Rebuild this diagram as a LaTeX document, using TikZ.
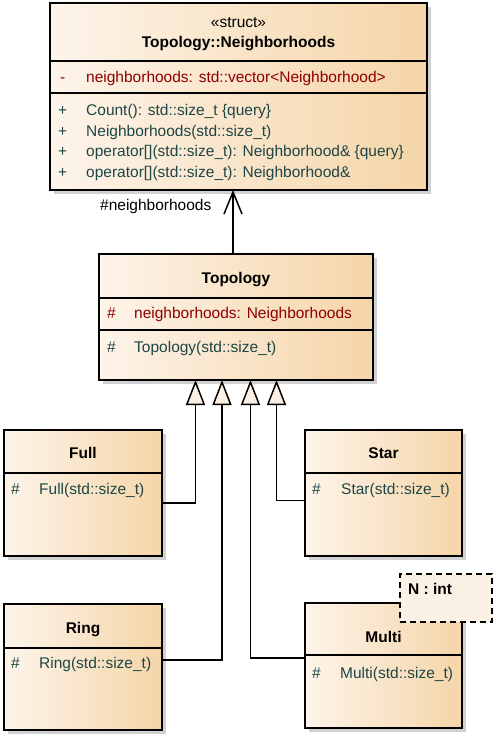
\documentclass[tikz,border=0pt]{standalone}
\usepackage{fontspec}
\setmainfont{Liberation Sans}
\usetikzlibrary{arrows.meta,shadows}
\definecolor{cL}{HTML}{FDF4EA}
\definecolor{cR}{HTML}{F5D5A8}
\definecolor{attrC}{HTML}{8E0000}
\definecolor{opC}{HTML}{1E4646}
\definecolor{triF}{HTML}{FBF0E3}
\definecolor{tplF}{HTML}{FBF0E4}
\begin{document}
\begin{tikzpicture}[x=1pt,y=-1pt,
  font=\fontsize{15.5}{18}\selectfont,
  cls/.style={draw=black, line width=1.7pt, left color=cL, right color=cR,
    drop shadow={shadow xshift=4pt, shadow yshift=-4pt, fill=black!18, opacity=1},
    inner sep=0pt, outer sep=0pt, anchor=north west},
  div/.style={line width=1.6pt},
  txt/.style={anchor=base west, inner sep=0pt},
  ttl/.style={anchor=base, inner sep=0pt, font=\fontsize{15.5}{18}\selectfont\bfseries},
  atr/.style={txt, text=attrC},
  opr/.style={txt, text=opC},
  gen/.style={line width=1.5pt, -{Triangle[length=25pt,width=19pt,fill=triF]}},
  assoc/.style={line width=1.5pt, -{Straight Barb[length=22pt,width=18pt]}},
  tpl/.style={draw=black, line width=1.5pt, dash pattern=on 6pt off 4pt, fill=tplF,
    inner sep=0pt, outer sep=0pt, anchor=north west}]
\useasboundingbox (0,0) rectangle (499,734);
% ---------- Topology::Neighborhoods ----------
\node[cls, minimum width=377pt, minimum height=187pt] (nb) at (50,3) {};
\draw[div] (nb.west |- 0,61) -- (nb.east |- 0,61);
\draw[div] (nb.west |- 0,93) -- (nb.east |- 0,93);
\node[anchor=base, inner sep=0pt] (nbst) at (238.5,27) {«struct»};
\node[ttl] (nbt) at (238.5,47) {Topology::Neighborhoods};
\node[atr] (nba1) at (60,82) {-};
\node[atr] (nba2) at (86,82) {neighborhoods: std::vector<Neighborhood>};
\node[opr] (nbo1a) at (58,115.5) {+};
\node[opr] (nbo1) at (86,115.5) {Count(): std::size\_t \{query\}};
\node[opr] (nbo2a) at (58,136) {+};
\node[opr] (nbo2) at (86,136) {Neighborhoods(std::size\_t)};
\node[opr] (nbo3a) at (58,156.5) {+};
\node[opr] (nbo3) at (86,156.5) {operator[](std::size\_t): Neighborhood\& \{query\}};
\node[opr] (nbo4a) at (58,177) {+};
\node[opr] (nbo4) at (86,177) {operator[](std::size\_t): Neighborhood\&};
% ---------- Topology ----------
\node[cls, minimum width=274pt, minimum height=126pt] (topo) at (99,254) {};
\draw[div] (topo.west |- 0,298) -- (topo.east |- 0,298);
\draw[div] (topo.west |- 0,330) -- (topo.east |- 0,330);
\node[ttl] (topot) at (236,283) {Topology};
\node[atr] (topoa1) at (107,318) {\#};
\node[atr] (topoa2) at (134,318) {neighborhoods: Neighborhoods};
\node[opr] (topoo1) at (107,352) {\#};
\node[opr] (topoo2) at (134,352) {Topology(std::size\_t)};
% ---------- Full ----------
\node[cls, minimum width=158pt, minimum height=126pt] (full) at (4,430) {};
\draw[div] (full.west |- 0,473) -- (full.east |- 0,473);
\node[ttl] (fullt) at (83,458) {Full};
\node[opr] (fullo1) at (11,494) {\#};
\node[opr] (fullo2) at (39,494) {Full(std::size\_t)};
% ---------- Star ----------
\node[cls, minimum width=157pt, minimum height=126pt] (star) at (305,430) {};
\draw[div] (star.west |- 0,473) -- (star.east |- 0,473);
\node[ttl] (start) at (383.5,458) {Star};
\node[opr] (staro1) at (312,494) {\#};
\node[opr] (staro2) at (341,494) {Star(std::size\_t)};
% ---------- Ring ----------
\node[cls, minimum width=158pt, minimum height=126pt] (ring) at (4,604) {};
\draw[div] (ring.west |- 0,648) -- (ring.east |- 0,648);
\node[ttl] (ringt) at (83,633) {Ring};
\node[opr] (ringo1) at (11,668) {\#};
\node[opr] (ringo2) at (39,668) {Ring(std::size\_t)};
% ---------- Multi ----------
\node[cls, minimum width=157pt, minimum height=125pt] (multi) at (305,603) {};
\draw[div] (multi.west |- 0,655) -- (multi.east |- 0,655);
\node[ttl] (multit) at (383.5,642) {Multi};
\node[opr] (multio1) at (312,678) {\#};
\node[opr] (multio2) at (340,678) {Multi(std::size\_t)};
\node[tpl, minimum width=92pt, minimum height=48pt] (tplbox) at (400,574) {};
\node[ttl, anchor=base west] (tplt) at (408,594) {N : int};
% ---------- connectors ----------
\draw[assoc] ([xshift=-3pt]topo.north) -- ([xshift=-3pt]topo.north |- nb.south);
\node[txt] (assocl) at (100,210) {\#neighborhoods};
\draw[gen] ([yshift=-10pt]full.east) -| ([xshift=-40.5pt]topo.south);
\draw[gen] ([yshift=7pt]ring.east) -| ([xshift=-14pt]topo.south);
\draw[gen] ([yshift=7.5pt]multi.west) -| ([xshift=14.5pt]topo.south);
\draw[gen] ([yshift=-7.5pt]star.west) -| ([xshift=40.5pt]topo.south);
\end{tikzpicture}
\end{document}
